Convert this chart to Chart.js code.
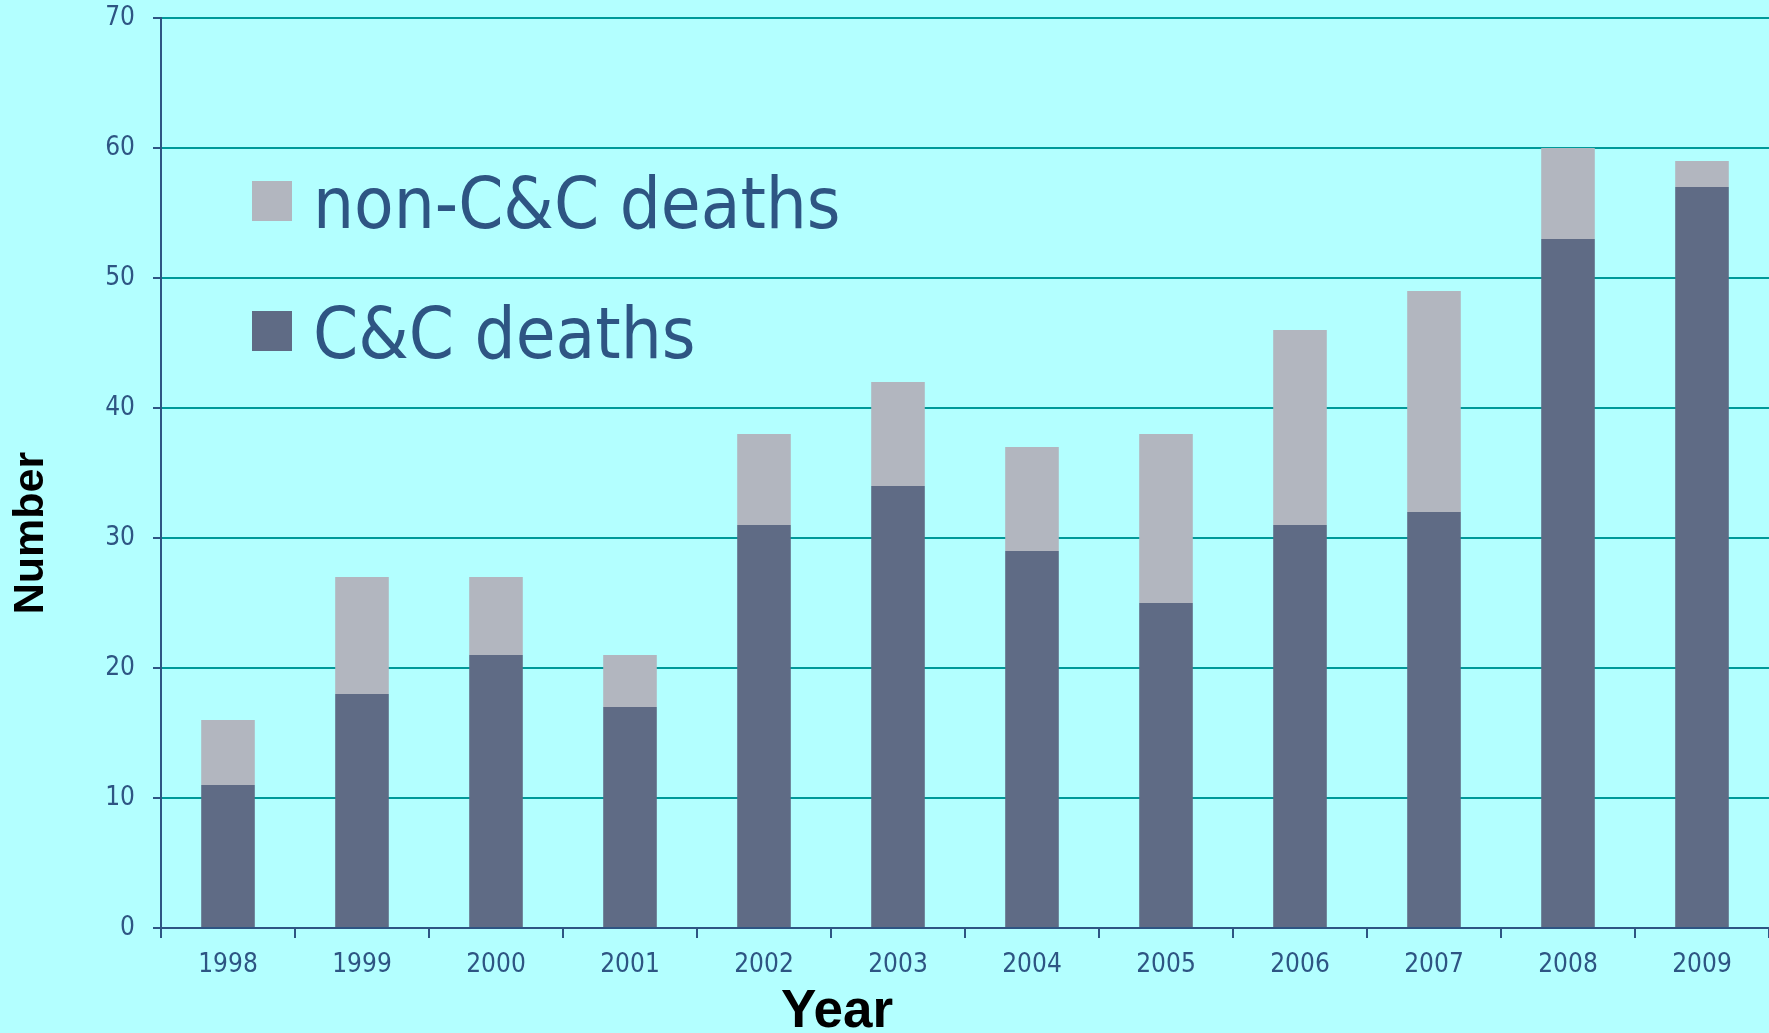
<!DOCTYPE html>
<html>
<head>
<meta charset="utf-8">
<title>C&amp;C deaths by year</title>
<script src="https://cdn.jsdelivr.net/npm/chart.js@4.4.1/dist/chart.umd.min.js"></script>
<style>
  html, body { margin: 0; padding: 0; overflow: hidden; background: #B3FFFF; }
  #wrap { position: relative; width: 1769px; height: 1060px; }
</style>
</head>
<body>
<div id="wrap"><canvas id="deathsChart"></canvas></div>
<script>
// data
const years = ["1998", "1999", "2000", "2001", "2002", "2003", "2004", "2005", "2006", "2007", "2008", "2009"];
const ccDeaths = [11, 18, 21, 17, 31, 34, 29, 25, 31, 32, 53, 57];
const nonCcDeaths = [5, 9, 6, 4, 7, 8, 8, 13, 15, 17, 7, 2];
const seriesNames = ["C&C deaths", "non-C&C deaths"];
const axisTitles = ["Year", "Number"];
const yMin = 0;
const yMax = 70;
const yStep = 10;

const TEXT_BLUE = "#2E5583";
const GRID_TEAL = "#009999";
const TICK_FONT = '"DejaVu Sans Condensed", "Liberation Sans Narrow", sans-serif';
const TITLE_FONT = '"Liberation Sans", Arial, sans-serif';

// legend + axis titles, drawn by hand because the original puts them
// off-centre / inside the plot
const overlays = {
  id: "overlays",
  afterDraw(chart) {
    const ctx = chart.ctx;
    const sets = chart.data.datasets.slice().reverse();
    ctx.save();
    ctx.font = "72px " + TICK_FONT;
    ctx.textBaseline = "alphabetic";
    ctx.textAlign = "left";
    sets.forEach((ds, i) => {
      ctx.fillStyle = ds.backgroundColor;
      ctx.fillRect(252, 181 + i * 130, 40, 40);
      ctx.fillStyle = TEXT_BLUE;
      ctx.fillText(ds.label, 313, 228 + i * 130);
    });

    ctx.fillStyle = "#000000";
    ctx.textAlign = "center";
    ctx.textBaseline = "middle";
    ctx.font = "bold 53px " + TITLE_FONT;
    ctx.fillText(axisTitles[0], 837, 1012);

    ctx.font = "bold 43px " + TITLE_FONT;
    ctx.translate(31, 533);
    ctx.rotate(-Math.PI / 2);
    ctx.fillText(axisTitles[1], 0, 0);
    ctx.restore();
  }
};

new Chart(document.getElementById("deathsChart"), {
  type: "bar",
  data: {
    labels: years,
    datasets: [
      { label: seriesNames[0], data: ccDeaths, backgroundColor: "#5F6B85", borderWidth: 0 },
      { label: seriesNames[1], data: nonCcDeaths, backgroundColor: "#B2B6BF", borderWidth: 0 }
    ]
  },
  options: {
    responsive: true,
    maintainAspectRatio: false,
    animation: false,
    layout: { padding: { top: 18, left: 0, right: 0, bottom: 0 } },
    datasets: { bar: { categoryPercentage: 1, barPercentage: 0.4 } },
    plugins: { legend: { display: false }, tooltip: { enabled: false } },
    scales: {
      x: {
        stacked: true,
        afterFit: (scale) => { scale.height = 132; },
        border: { color: TEXT_BLUE, width: 2 },
        grid: { drawOnChartArea: false, drawTicks: true, tickLength: 10, tickColor: TEXT_BLUE, lineWidth: 2 },
        ticks: { color: TEXT_BLUE, padding: 12, font: { family: TICK_FONT, size: 26 } }
      },
      y: {
        stacked: true,
        min: yMin,
        max: yMax,
        afterFit: (scale) => {
          scale.width = 161;
          scale.paddingTop = 0;
          scale.paddingBottom = 0;
        },
        border: { color: TEXT_BLUE, width: 2 },
        grid: { color: GRID_TEAL, lineWidth: 2, tickLength: 8, tickColor: TEXT_BLUE },
        ticks: { stepSize: yStep, color: TEXT_BLUE, padding: 18, font: { family: TICK_FONT, size: 26 } }
      }
    }
  },
  plugins: [overlays]
});
</script>
</body>
</html>
